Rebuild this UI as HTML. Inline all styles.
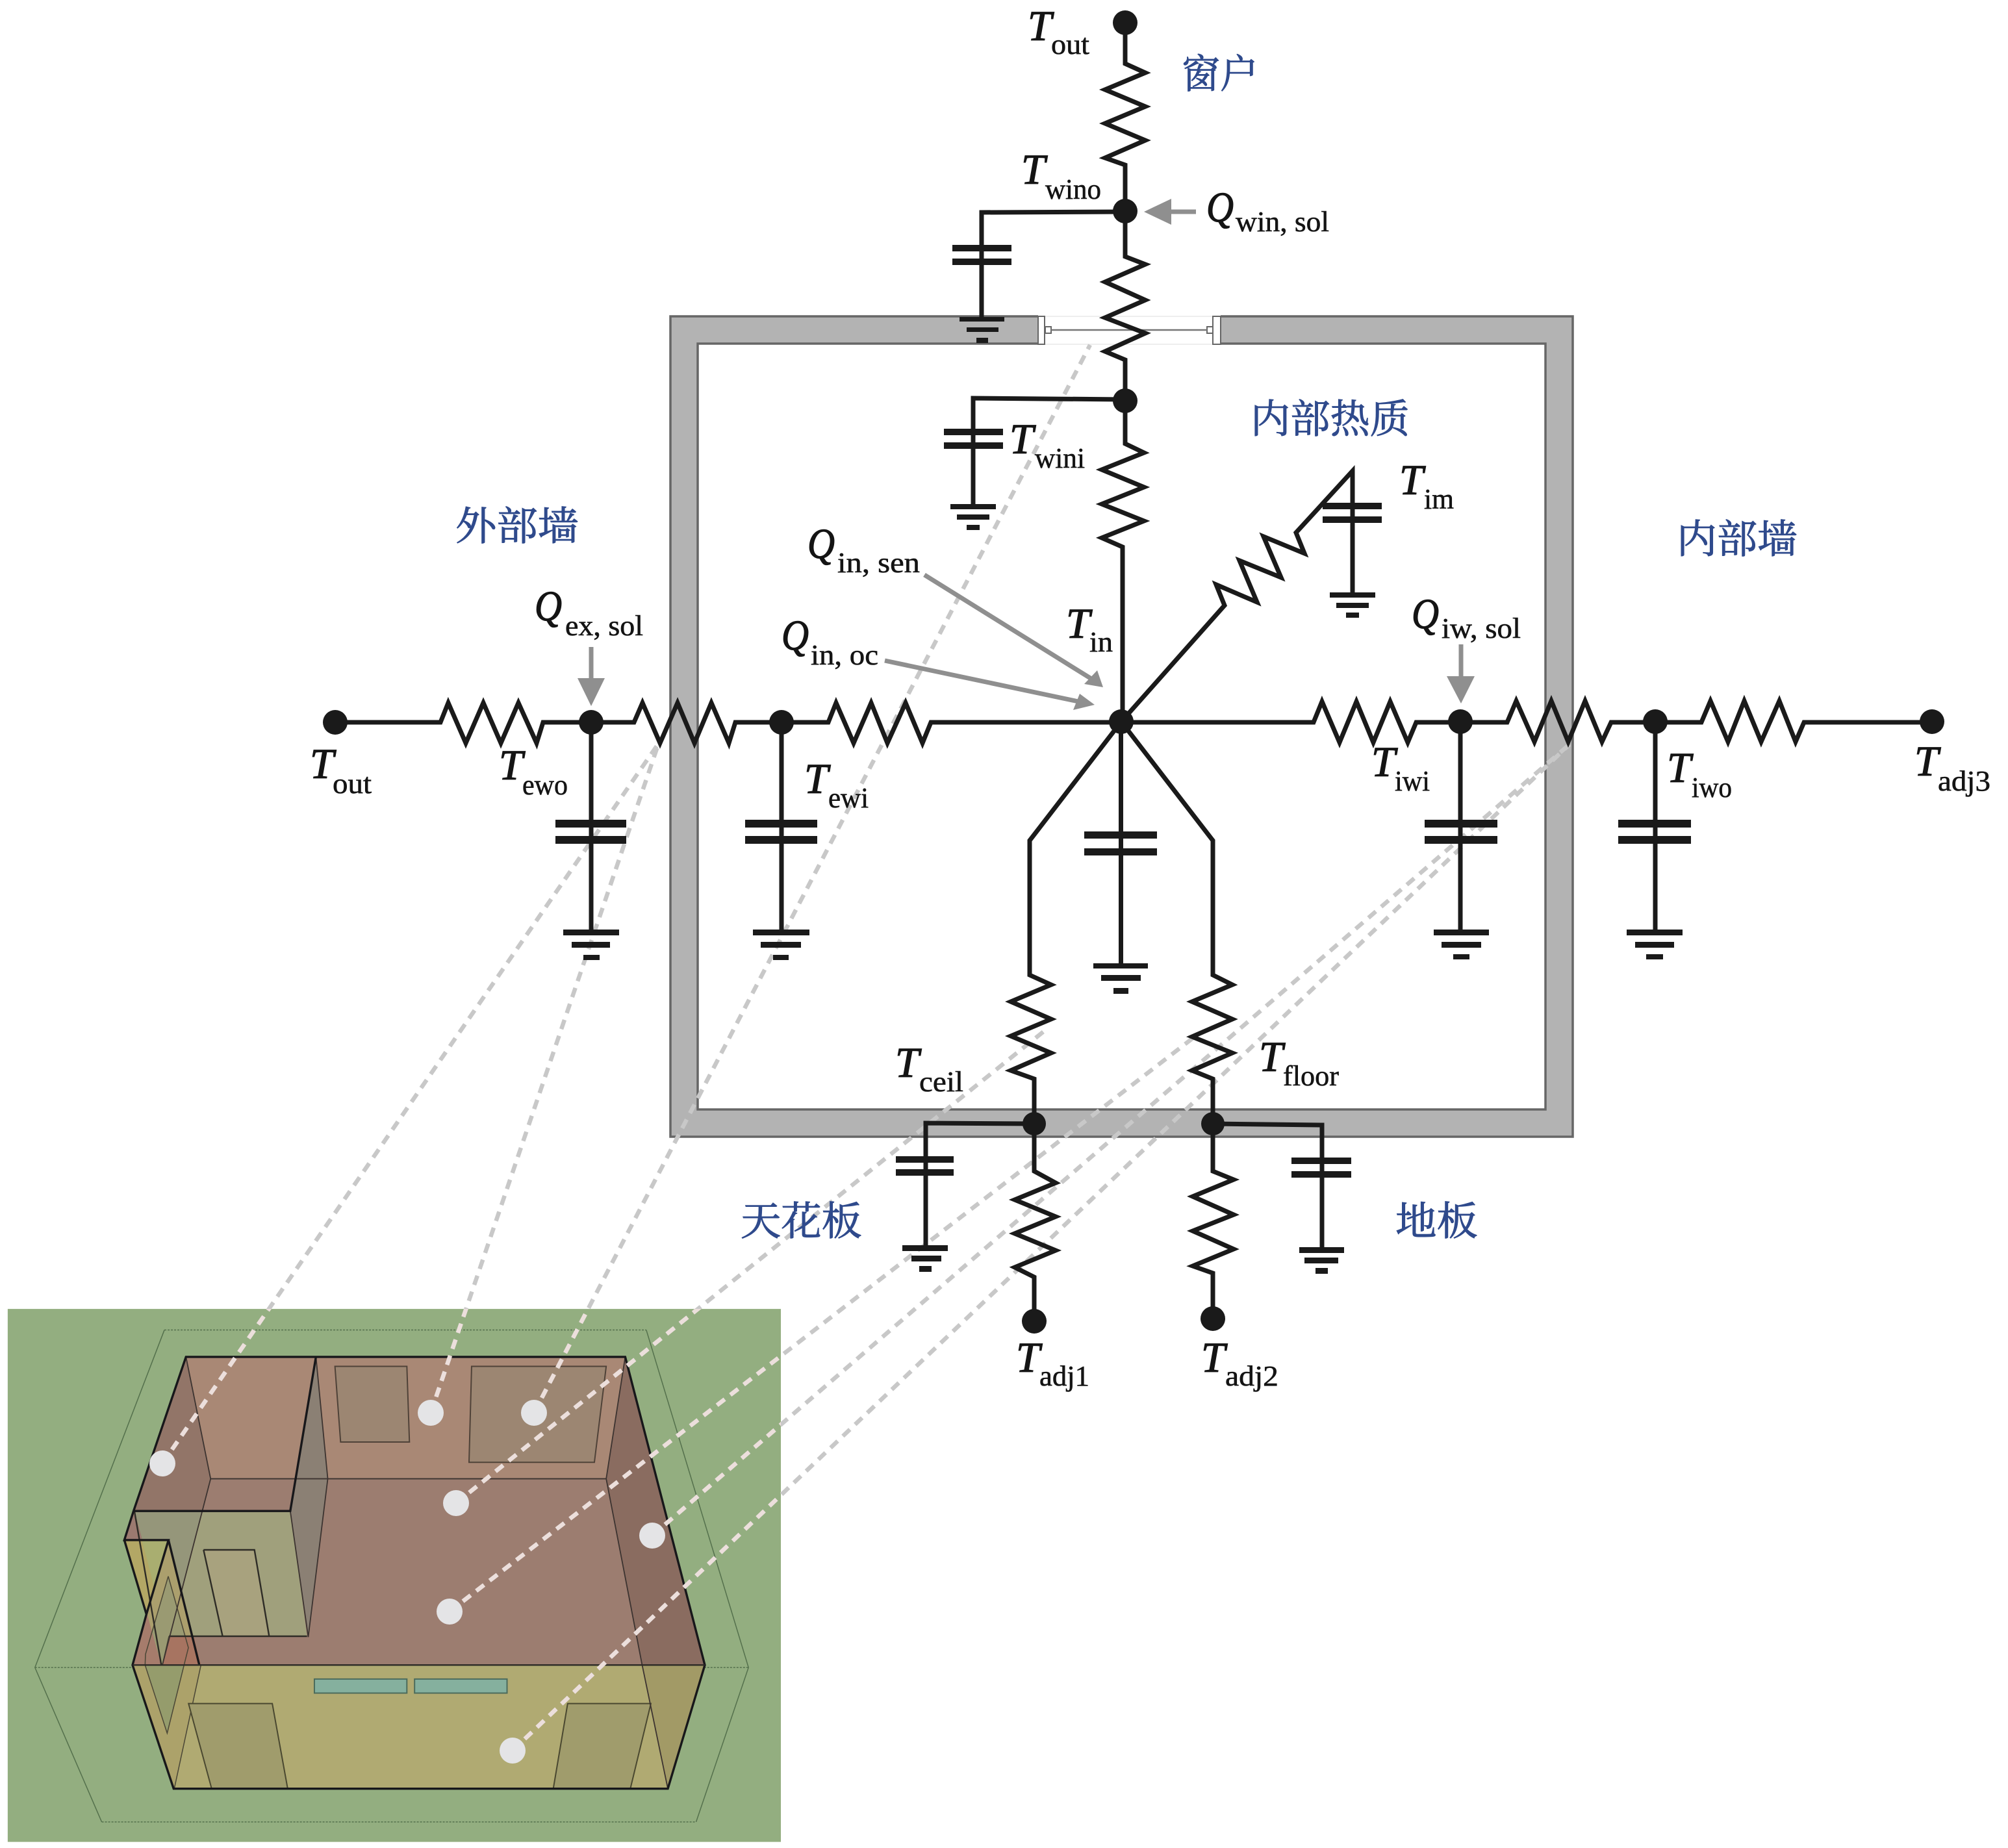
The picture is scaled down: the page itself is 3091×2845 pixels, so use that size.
<!DOCTYPE html>
<html lang="zh"><head><meta charset="utf-8"><title>Thermal network</title>
<style>
html,body{margin:0;padding:0;background:#fff}
svg{display:block}
.T{font:italic 66px "Liberation Serif",serif;fill:#141414;stroke:#141414;stroke-width:1.3;transform:translateX(-4px)}
.s{font:44px "Liberation Serif",serif;fill:#141414;stroke:#141414;stroke-width:.6}
.c{font:61px "Liberation Serif","Noto Serif CJK SC",serif;fill:#2f4a8c;stroke:#2f4a8c;stroke-width:1}
.w{fill:none;stroke:#1a1a1a;stroke-width:7;stroke-linejoin:miter}
.b{fill:#1a1a1a}
.a{fill:none;stroke:#8f8f8f;stroke-width:7}
.ah{fill:#8f8f8f}
.p *{vector-effect:non-scaling-stroke}
</style></head><body>
<svg xmlns="http://www.w3.org/2000/svg" width="3091" height="2845" viewBox="0 0 3091 2845">
<defs>
<clipPath id="pc"><rect x="12" y="2015" width="1190" height="821"/></clipPath>
<g id="dl">
<line x1="250" y1="2253" x2="1014" y2="1144"/>
<line x1="663" y1="2175" x2="1014" y2="1144"/>
<line x1="822" y1="2175" x2="1678" y2="531"/>
<line x1="702" y1="2314" x2="1609" y2="1586"/>
<line x1="692" y1="2481" x2="1839" y2="1596"/>
<line x1="1004" y1="2364" x2="2416" y2="1146"/>
<line x1="789" y1="2695" x2="2416" y2="1146"/>
</g>
</defs>
<rect width="3091" height="2845" fill="#fff"/>

<!-- 3D room panel -->
<g class="p" transform="translate(0,2000) scale(.7908,.5391)">
<rect x="15" y="28" width="1505" height="1522" fill="#93ae80"/>
<g fill="none" stroke="#54704c" stroke-width="1.5">
<path d="M320 88H1258M68 1052H1457M198 1493H1355" stroke-dasharray="3 2"/>
<path d="M320 88L68 1052L198 1493M1258 88L1457 1052L1355 1493"/>
</g>
<polygon points="362,165 1217,165 1180,513 410,513" fill="#a98875"/>
<polygon points="410,513 1180,513 1250,1045 316,1045" fill="#9c7d70"/>
<polygon points="362,165 410,513 316,1045 258,1045 285,900 328,688 242,688 260,605" fill="#927568"/>
<polygon points="1217,165 1372,1045 1250,1045 1180,513" fill="#8a6c60"/>
<polygon points="615,165 638,513 600,965 565,605" fill="#8b8074"/>
<polygon points="652,192 792,192 797,408 663,408" fill="#9c8672" stroke="#4f4238" stroke-width="2"/>
<polygon points="918,192 1180,192 1157,466 913,466" fill="#9c8672" stroke="#4f4238" stroke-width="2"/>
<polygon points="258,1045 1372,1045 1300,1398 338,1398" fill="#b0aa72"/>
<polygon points="1250,1045 1372,1045 1300,1398" fill="#a29a66"/>
</g>
<!-- notch detail -->
<g class="p" transform="translate(150,2280) scale(.33333)">
<polygon points="170,135 892,135 968,717 330,717" fill="#a0a07c"/>
<polygon points="170,135 485,135 395,470 330,717" fill="#95967a"/>
<polygon points="490,318 725,318 793,717 578,717" fill="#a8a27e"/>
<polygon points="170,135 120,270 205,270" fill="#9b7a70"/>
<polygon points="120,270 328,272 228,610" fill="#b3a765"/>
<polygon points="205,272 328,272 262,490" fill="#a9ae70"/>
<polygon points="328,272 478,850 160,850 228,610" fill="#ab9f6d"/>
<polygon points="327,440 420,770 400,850 220,850 222,800" fill="#9a9a72"/>
<polygon points="228,610 295,850 160,850" fill="#a67c6c"/>
<polygon points="330,717 445,717 478,850 300,850" fill="#a8705f" opacity=".9"/>
<polygon points="160,850 478,850 352,1420" fill="#ac a26a" style="fill:#aca26a"/>
<polygon points="220,850 400,850 322,1165" fill="#959c6c"/>
<g fill="none" stroke="#4a4636" stroke-width="1.5">
<path d="M327 440L420 770L400 850M327 440L222 800L220 850M220 850L322 1165L400 850M300 850L330 717M478 850L355 1420"/>
</g>
<g fill="none" stroke="#2e2c26" stroke-width="2.4">
<path d="M170 135L295 850M330 717H968M490 318H725L793 717M490 318L578 717"/>
</g>
</g>
<g class="p" transform="translate(0,2000) scale(.7908,.5391)">
<polygon points="367,1155 530,1155 560,1398 412,1398" fill="#a09c6c" stroke="#4a4830" stroke-width="2"/>
<polygon points="1105,1155 1267,1155 1227,1398 1077,1398" fill="#a09c6c" stroke="#4a4830" stroke-width="2"/>
<rect x="612" y="1085" width="180" height="40" fill="#85b09e" stroke="#4b6b5c" stroke-width="2"/>
<rect x="807" y="1085" width="180" height="40" fill="#85b09e" stroke="#4b6b5c" stroke-width="2"/>
<g fill="none" stroke="#3c3330" stroke-width="1.8">
<path d="M362 165L410 513L316 1045M1217 165L1180 513L1250 1045M410 513H1180M615 165L638 513L600 965M565 605L600 965M1300 1398L1250 1045"/>
</g>
<g fill="none" stroke="#17171a" stroke-width="3.4" stroke-linejoin="miter">
<path d="M362 165H1217L1372 1045L1300 1398H338L258 1045L285 900L328 688H242L260 605L362 165Z"/>
<path d="M260 605H565L615 165"/>
<path d="M328 688L388 1045M242 688L285 900"/>
</g>
<path d="M258 1045H1372" fill="none" stroke="#2c2a26" stroke-width="2.4"/>
</g>

<!-- wall -->
<path d="M1032 487H2421V1750H1032ZM1074 529V1708H2379V529Z" fill="#b3b3b3" fill-rule="evenodd" stroke="#666" stroke-width="3.5"/>
<rect x="1598" y="483" width="281" height="50" fill="#fff"/>
<path d="M1608 487H1867M1608 530H1867" stroke="#eee" stroke-width="2"/>
<rect x="1598" y="487" width="10" height="43" fill="#fff" stroke="#666" stroke-width="2"/>
<rect x="1867" y="487" width="12" height="43" fill="#fff" stroke="#666" stroke-width="2"/>
<rect x="1609" y="503" width="9" height="10" fill="#fff" stroke="#666" stroke-width="2"/>
<rect x="1858" y="503" width="9" height="10" fill="#fff" stroke="#666" stroke-width="2"/>
<path d="M1618 508H1858" stroke="#777" stroke-width="2.5"/>

<!-- dashed leaders -->
<use href="#dl" fill="none" stroke="#c8c8c8" stroke-width="6.5" stroke-dasharray="15 11"/>
<use href="#dl" fill="none" stroke="#ecdfdc" stroke-width="6.5" stroke-dasharray="15 11" clip-path="url(#pc)"/>

<!-- panel dots -->
<g fill="#e4e4e6">
<circle cx="250" cy="2253" r="20"/><circle cx="663" cy="2175" r="20"/><circle cx="822" cy="2175" r="20"/>
<circle cx="702" cy="2314" r="20"/><circle cx="1004" cy="2364" r="20"/><circle cx="692" cy="2481" r="20"/><circle cx="789" cy="2695" r="20"/>
</g>

<!-- circuit wires -->
<g class="w">
<polyline points="1732,35 1732,98 1763,112 1701,138 1763,164 1701,190 1763,216 1701,243 1732,254 1732,395 1763,407 1701,434 1763,462 1701,489 1763,513 1701,541 1732,554 1732,683 1761,697 1696,723 1761,750 1696,776 1761,802 1696,828 1728,842 1728,1111"/>
<polyline points="1732,326 1511,327 1511,490"/>
<polyline points="1732,615 1498,613 1498,780"/>
<polyline points="516,1112 678,1112 690,1082 717,1144 744,1082 771,1144 798,1082 826,1144 836,1112 976,1112 989,1082 1016,1144 1043,1082 1069,1144 1095,1082 1122,1144 1132,1112 1275,1112 1287,1082 1314,1144 1341,1082 1366,1144 1394,1082 1420,1144 1433,1112 2022,1112 2035,1080 2062,1143 2088,1080 2114,1143 2140,1080 2167,1143 2180,1112 2320,1112 2334,1079 2362,1142 2388,1079 2414,1142 2440,1079 2466,1142 2480,1112 2619,1112 2633,1079 2660,1142 2685,1079 2711,1142 2739,1079 2764,1142 2777,1112 2974,1112"/>
<polyline points="1726,1111 1885,932 1872,900 1935,927 1908,863 1972,889 1945,826 2008,852 1995,820 2082,725 2082,916"/>
<path d="M910 1112V1435M1203 1112V1435M2248 1112V1435M2548 1112V1435M1725.5 1111V1487"/>
<polyline points="1726,1111 1585,1294 1585,1501 1618,1516 1556,1542 1618,1569 1556,1595 1618,1621 1556,1648 1592,1661 1592,1803 1625,1821 1562,1847 1625,1873 1562,1899 1625,1925 1562,1951 1592,1966 1592,2034"/>
<polyline points="1726,1111 1867,1294 1867,1501 1897,1516 1835,1542 1897,1569 1835,1596 1897,1621 1835,1648 1867,1661 1867,1803 1899,1816 1836,1842 1899,1870 1836,1895 1899,1923 1836,1949 1867,1960 1867,2030"/>
<polyline points="1592,1730 1425,1729 1425,1921"/>
<polyline points="1867,1730 2035,1732 2035,1924"/>
</g>

<!-- capacitors -->
<g class="b">
<rect x="1466" y="377" width="91" height="10"/><rect x="1466" y="398" width="91" height="10"/>
<rect x="1453" y="660" width="91" height="10"/><rect x="1453" y="681" width="91" height="10"/>
<rect x="2036" y="774" width="91" height="10"/><rect x="2036" y="795" width="91" height="10"/>
<rect x="855" y="1262" width="109" height="12"/><rect x="855" y="1287" width="109" height="12"/>
<rect x="1147" y="1262" width="111" height="12"/><rect x="1147" y="1287" width="111" height="12"/>
<rect x="1669" y="1280" width="112" height="11"/><rect x="1669" y="1306" width="112" height="11"/>
<rect x="2193" y="1262" width="112" height="12"/><rect x="2193" y="1287" width="112" height="12"/>
<rect x="2491" y="1262" width="112" height="12"/><rect x="2491" y="1287" width="112" height="12"/>
<rect x="1379" y="1780" width="89" height="10"/><rect x="1379" y="1800" width="89" height="10"/>
<rect x="1988" y="1782" width="92" height="10"/><rect x="1988" y="1803" width="92" height="10"/>
<rect x="1477" y="488" width="69" height="7"/><rect x="1488" y="504" width="49" height="7"/><rect x="1503" y="520" width="18" height="8"/>
<rect x="1463" y="776" width="70" height="8"/><rect x="1473" y="792" width="50" height="8"/><rect x="1488" y="808" width="20" height="8"/>
<rect x="2047" y="912" width="70" height="8"/><rect x="2057" y="928" width="50" height="8"/><rect x="2072" y="943" width="20" height="8"/>
<rect x="867" y="1431" width="86" height="9"/><rect x="880" y="1450" width="59" height="9"/><rect x="898" y="1470" width="25" height="8"/>
<rect x="1159" y="1431" width="87" height="9"/><rect x="1171" y="1450" width="62" height="9"/><rect x="1190" y="1470" width="24" height="8"/>
<rect x="1683" y="1483" width="84" height="8"/><rect x="1695" y="1501" width="61" height="9"/><rect x="1714" y="1521" width="23" height="9"/>
<rect x="2207" y="1431" width="85" height="9"/><rect x="2219" y="1450" width="61" height="9"/><rect x="2237" y="1469" width="25" height="8"/>
<rect x="2504" y="1431" width="86" height="9"/><rect x="2517" y="1450" width="60" height="9"/><rect x="2534" y="1469" width="26" height="8"/>
<rect x="1389" y="1917" width="70" height="9"/><rect x="1403" y="1933" width="46" height="9"/><rect x="1415" y="1949" width="19" height="9"/>
<rect x="2000" y="1920" width="69" height="9"/><rect x="2008" y="1936" width="52" height="9"/><rect x="2025" y="1952" width="19" height="9"/>
<circle cx="1732" cy="35" r="19"/><circle cx="1732" cy="325" r="19"/><circle cx="1732" cy="617" r="19"/>
<circle cx="516" cy="1112" r="19"/><circle cx="910" cy="1112" r="19"/><circle cx="1203" cy="1112" r="19"/>
<circle cx="1726" cy="1111" r="19"/><circle cx="2248" cy="1111" r="19"/><circle cx="2548" cy="1111" r="19"/><circle cx="2974" cy="1111" r="19"/>
<circle cx="1592" cy="1730" r="18"/><circle cx="1867" cy="1730" r="18"/><circle cx="1592" cy="2034" r="19"/><circle cx="1867" cy="2030" r="19"/>
</g>

<!-- heat arrows -->
<path class="a" d="M1841 326H1795M910 996V1050M2249 992V1048M1423 885L1680 1045M1362 1017L1660 1080"/>
<polygon class="ah" points="1761,326 1803,306 1803,346"/>
<polygon class="ah" points="889,1044 931,1044 910,1087"/>
<polygon class="ah" points="2227,1041 2270,1041 2249,1083"/>
<polygon class="ah" points="1698,1058 1669,1053 1689,1032"/>
<polygon class="ah" points="1685,1085 1652,1093 1662,1068"/>

<!-- labels -->
<g>
<text class="T" x="1586" y="62">T</text><text class="s" x="1618" y="83" textLength="59" lengthAdjust="spacingAndGlyphs">out</text>
<text class="T" x="1576" y="283">T</text><text class="s" x="1609" y="306" textLength="86" lengthAdjust="spacingAndGlyphs">wino</text>
<text class="T" x="1861" y="341" textLength="42" lengthAdjust="spacingAndGlyphs">Q</text><text class="s" x="1902" y="356" textLength="144" lengthAdjust="spacingAndGlyphs">win, sol</text>
<text class="T" x="1558" y="698">T</text><text class="s" x="1593" y="720" textLength="77" lengthAdjust="spacingAndGlyphs">wini</text>
<text class="T" x="2158" y="761">T</text><text class="s" x="2192" y="783" textLength="46" lengthAdjust="spacingAndGlyphs">im</text>
<text class="T" x="1645" y="982">T</text><text class="s" x="1677" y="1003" textLength="36" lengthAdjust="spacingAndGlyphs">in</text>
<text class="T" x="1247" y="859" textLength="42" lengthAdjust="spacingAndGlyphs">Q</text><text class="s" x="1289" y="881" textLength="127" lengthAdjust="spacingAndGlyphs">in, sen</text>
<text class="T" x="1207" y="1000" textLength="42" lengthAdjust="spacingAndGlyphs">Q</text><text class="s" x="1248" y="1023" textLength="104" lengthAdjust="spacingAndGlyphs">in, oc</text>
<text class="T" x="827" y="955" textLength="42" lengthAdjust="spacingAndGlyphs">Q</text><text class="s" x="870" y="978" textLength="120" lengthAdjust="spacingAndGlyphs">ex, sol</text>
<text class="T" x="2177" y="967" textLength="42" lengthAdjust="spacingAndGlyphs">Q</text><text class="s" x="2219" y="982" textLength="122" lengthAdjust="spacingAndGlyphs">iw, sol</text>
<text class="T" x="481" y="1198">T</text><text class="s" x="512" y="1221" textLength="60" lengthAdjust="spacingAndGlyphs">out</text>
<text class="T" x="772" y="1200">T</text><text class="s" x="804" y="1223" textLength="70" lengthAdjust="spacingAndGlyphs">ewo</text>
<text class="T" x="1242" y="1221">T</text><text class="s" x="1275" y="1243" textLength="62" lengthAdjust="spacingAndGlyphs">ewi</text>
<text class="T" x="2115" y="1195">T</text><text class="s" x="2147" y="1217" textLength="54" lengthAdjust="spacingAndGlyphs">iwi</text>
<text class="T" x="2570" y="1204">T</text><text class="s" x="2604" y="1227" textLength="62" lengthAdjust="spacingAndGlyphs">iwo</text>
<text class="T" x="2951" y="1194">T</text><text class="s" x="2983" y="1217" textLength="81" lengthAdjust="spacingAndGlyphs">adj3</text>
<text class="T" x="1382" y="1658">T</text><text class="s" x="1415" y="1680" textLength="68" lengthAdjust="spacingAndGlyphs">ceil</text>
<text class="T" x="1942" y="1649">T</text><text class="s" x="1975" y="1671" textLength="86" lengthAdjust="spacingAndGlyphs">floor</text>
<text class="T" x="1568" y="2112">T</text><text class="s" x="1600" y="2133" textLength="77" lengthAdjust="spacingAndGlyphs">adj1</text>
<text class="T" x="1853" y="2112">T</text><text class="s" x="1886" y="2133" textLength="82" lengthAdjust="spacingAndGlyphs">adj2</text>
<text class="c" x="1819" y="135" textLength="118" lengthAdjust="spacingAndGlyphs">窗户</text>
<text class="c" x="1925" y="666" textLength="245" lengthAdjust="spacingAndGlyphs">内部热质</text>
<text class="c" x="701" y="831" textLength="190" lengthAdjust="spacingAndGlyphs">外部墙</text>
<text class="c" x="2581" y="851" textLength="186" lengthAdjust="spacingAndGlyphs">内部墙</text>
<text class="c" x="1140" y="1901" textLength="187" lengthAdjust="spacingAndGlyphs">天花板</text>
<text class="c" x="2148" y="1901" textLength="127" lengthAdjust="spacingAndGlyphs">地板</text>
</g>
</svg>
</body></html>
